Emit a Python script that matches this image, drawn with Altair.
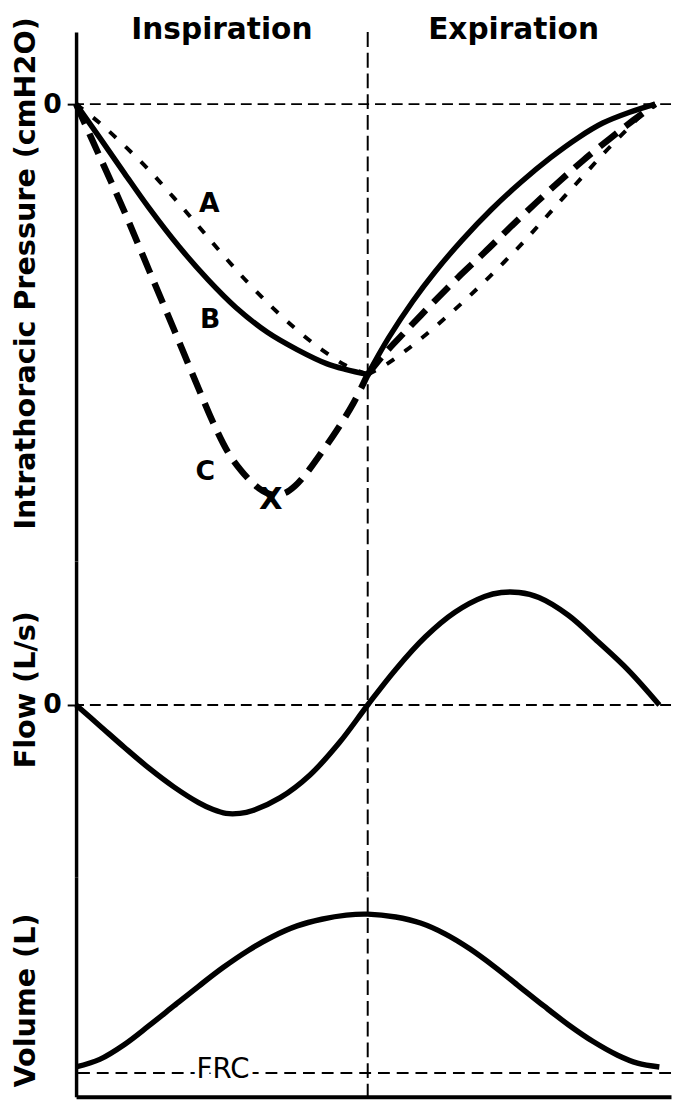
import altair as alt
import pandas as pd

# ---------------- data ----------------
DIVIDER_T = [1.0]                       # end of inspiration
PHASE_LABELS = ["Inspiration", "Expiration"]
PHASE_CENTERS = [0.5, 1.5]

# Intrathoracic pressure (cmH2O, estimated)
A_INSP_T = [0, 0.081, 0.166, 0.250, 0.335, 0.420, 0.504, 0.589, 0.673, 0.758, 0.842, 0.927, 1.0]
A_INSP_P = [0, -0.35, -0.77, -1.22, -1.73, -2.26, -2.79, -3.30, -3.76, -4.18, -4.54, -4.84, -5.0]
A_EXP_T = [1.0, 1.062, 1.130, 1.198, 1.265, 1.333, 1.401, 1.468, 1.536, 1.603, 1.671, 1.739, 1.806, 1.874, 1.932, 1.986]
A_EXP_P = [-5.0, -4.82, -4.56, -4.27, -3.96, -3.63, -3.28, -2.92, -2.54, -2.14, -1.73, -1.33, -0.93, -0.55, -0.24, 0]

B_INSP_T = [0, 0.081, 0.166, 0.250, 0.352, 0.453, 0.548, 0.656, 0.758, 0.859, 0.927, 1.0]
B_INSP_P = [0, -0.62, -1.28, -1.92, -2.63, -3.25, -3.76, -4.22, -4.54, -4.80, -4.91, -5.0]
B_EXP_T = [1.0, 1.072, 1.154, 1.231, 1.323, 1.424, 1.526, 1.627, 1.722, 1.806, 1.898, 1.986]
B_EXP_P = [-5.0, -4.32, -3.65, -3.10, -2.52, -1.95, -1.44, -0.99, -0.62, -0.35, -0.15, 0]

C_INSP_T = [0, 0.081, 0.166, 0.250, 0.335, 0.420, 0.470, 0.521, 0.565, 0.606, 0.639, 0.680,
            0.717, 0.751, 0.785, 0.825, 0.893, 0.951, 1.0]
C_INSP_P = [0, -0.97, -1.99, -3.07, -4.16, -5.26, -5.89, -6.44, -6.77, -7.01, -7.15, -7.23,
            -7.19, -7.06, -6.86, -6.57, -6.04, -5.53, -5.0]
C_EXP_T = [1.0, 1.052, 1.130, 1.221, 1.309, 1.401, 1.492, 1.580, 1.661, 1.739, 1.830, 1.908, 1.986]
C_EXP_P = [-5.0, -4.65, -4.20, -3.69, -3.21, -2.74, -2.26, -1.81, -1.41, -1.04, -0.64, -0.31, 0]

CURVE_LABELS = ["A", "B", "C"]
CURVE_LABEL_T = [0.457, 0.460, 0.443]
CURVE_LABEL_P = [-1.81, -3.96, -6.77]
X_MARK_T = [0.668]
X_MARK_P = [-7.28]

# Flow (L/s, estimated)
FLOW_T = [0, 0.081, 0.166, 0.250, 0.335, 0.420, 0.470, 0.514, 0.562, 0.606, 0.700, 0.802, 0.903, 1.0,
          1.096, 1.198, 1.299, 1.401, 1.458, 1.519, 1.587, 1.688, 1.790, 1.894, 2.0]
FLOW_F = [0, -0.092, -0.189, -0.281, -0.364, -0.434, -0.465, -0.482, -0.482, -0.469, -0.412, -0.311, -0.167, 0,
          0.158, 0.303, 0.412, 0.482, 0.500, 0.500, 0.478, 0.399, 0.281, 0.154, 0]

# Volume (L, estimated)
VOL_T = [0, 0.081, 0.166, 0.250, 0.335, 0.420, 0.504, 0.589, 0.673, 0.758, 0.842, 0.927, 1.0,
         1.096, 1.181, 1.265, 1.350, 1.434, 1.519, 1.604, 1.688, 1.773, 1.857, 1.925, 2.0]
VOL_V = [2.519, 2.543, 2.590, 2.649, 2.711, 2.773, 2.832, 2.885, 2.929, 2.963, 2.984, 2.997, 3.0,
         2.991, 2.972, 2.938, 2.891, 2.835, 2.773, 2.711, 2.652, 2.599, 2.556, 2.531, 2.519]
FRC = [2.5]
FRC_LABEL_T = [0.504]

# ---------------- frames ----------------
def seg(t, p, curve, phase):
    return pd.DataFrame({"t": t, "p": p, "curve": curve, "seg": phase})

pressure_df = pd.concat([
    seg(A_INSP_T, A_INSP_P, "A", "insp"), seg(A_EXP_T, A_EXP_P, "A", "exp"),
    seg(B_INSP_T, B_INSP_P, "B", "insp"), seg(B_EXP_T, B_EXP_P, "B", "exp"),
    seg(C_INSP_T, C_INSP_P, "C", "insp"), seg(C_EXP_T, C_EXP_P, "C", "exp"),
], ignore_index=True)
labels_df = pd.DataFrame({"t": CURVE_LABEL_T, "p": CURVE_LABEL_P, "label": CURVE_LABELS})
xmark_df = pd.DataFrame({"t": X_MARK_T, "p": X_MARK_P, "label": ["X"]})
phase_df = pd.DataFrame({"t": PHASE_CENTERS, "label": PHASE_LABELS})
divider_df = pd.DataFrame({"t": DIVIDER_T})
pzero_df = pd.DataFrame({"p": [0]})
flow_df = pd.DataFrame({"t": FLOW_T, "f": FLOW_F})
fzero_df = pd.DataFrame({"f": [0]})
vol_df = pd.DataFrame({"t": VOL_T, "v": VOL_V})
frc_df = pd.DataFrame({"v": FRC})
frc_label_df = pd.DataFrame({"t": FRC_LABEL_T, "v": FRC, "label": ["FRC"]})

# ---------------- styling ----------------
W = 603
H_P, H_F, H_V = 536, 320, 223
FONT = "DejaVu Sans"
SMOOTH = "catmull-rom"

xscale = alt.Scale(domain=[0, 2.04], nice=False, zero=False)


def X():
    return alt.X("t:Q", scale=xscale, axis=None)


def yaxis(title, title_y, zero_label=True):
    kw = dict(
        title=title, titleX=-42, titleY=title_y, titleAngle=270,
        titleAlign="center", titleBaseline="alphabetic",
        titleFont=FONT, titleFontSize=29, titleFontWeight="bold",
        titleColor="black", titleLimit=1000,
        domainColor="black", domainWidth=3.5, grid=False,
    )
    if zero_label:
        kw.update(values=[0], format="d", tickSize=9, tickWidth=2,
                  tickColor="black", labelFont=FONT, labelFontSize=27,
                  labelFontWeight="bold", labelColor="black", labelPadding=6)
    else:
        kw.update(labels=False, ticks=False)
    return alt.Axis(**kw)


p_axis = yaxis("Intrathoracic Pressure (cmH2O)", 244)
f_axis = yaxis("Flow (L/s)", 130)
v_axis = yaxis("Volume (L)", 125, zero_label=False)

p_scale = alt.Scale(domain=[-8.449, 1.332], nice=False, zero=False)
f_scale = alt.Scale(domain=[-0.7632, 0.6404], nice=False, zero=False)
v_scale = alt.Scale(domain=[2.4255, 3.118], nice=False, zero=False)

PY = alt.Y("p:Q", scale=p_scale, axis=p_axis)
FY = alt.Y("f:Q", scale=f_scale, axis=f_axis)
VY = alt.Y("v:Q", scale=v_scale, axis=v_axis)

vrule = dict(color="black", strokeWidth=2, strokeDash=[15, 6])
hrule = dict(color="black", strokeWidth=2, strokeDash=[11, 6])

# ---------------- pressure panel ----------------
p_layers = [
    alt.Chart(divider_df).mark_rule(**vrule).encode(x=X()),
    alt.Chart(pzero_df).mark_rule(**hrule).encode(y=PY),
    alt.Chart(pressure_df[pressure_df.curve == "A"]).mark_line(
        color="black", strokeWidth=4, strokeDash=[9, 13], interpolate=SMOOTH
    ).encode(x=X(), y=PY, detail="seg:N"),
    alt.Chart(pressure_df[pressure_df.curve == "B"]).mark_line(
        color="black", strokeWidth=5.5, interpolate=SMOOTH
    ).encode(x=X(), y=PY, detail="seg:N"),
    alt.Chart(pressure_df[pressure_df.curve == "C"]).mark_line(
        color="black", strokeWidth=6.5, strokeDash=[22, 11], interpolate=SMOOTH
    ).encode(x=X(), y=PY, detail="seg:N"),
    alt.Chart(labels_df).mark_text(
        font=FONT, fontSize=27, fontWeight="bold", color="black",
        baseline="middle", align="center", dy=2
    ).encode(x=X(), y=PY, text="label:N"),
    alt.Chart(xmark_df).mark_text(
        font=FONT, fontSize=31, fontWeight="bold", color="black",
        baseline="middle", align="center", dy=2
    ).encode(x=X(), y=PY, text="label:N"),
    alt.Chart(phase_df).mark_text(
        font=FONT, fontSize=30, fontWeight="bold", color="black",
        baseline="alphabetic", align="center"
    ).encode(x=X(), y=alt.value(7), text="label:N"),
]
pressure = alt.layer(*p_layers).properties(width=W, height=H_P)

# ---------------- flow panel ----------------
flow = alt.layer(
    alt.Chart(divider_df).mark_rule(**vrule).encode(x=X()),
    alt.Chart(fzero_df).mark_rule(**hrule).encode(y=FY),
    alt.Chart(flow_df).mark_line(color="black", strokeWidth=5.5, interpolate=SMOOTH)
    .encode(x=X(), y=FY),
).properties(width=W, height=H_F)

# ---------------- volume panel ----------------
x_axis = alt.Axis(labels=False, ticks=False, title=None, grid=False,
                  domainColor="black", domainWidth=4)
VX = alt.X("t:Q", scale=xscale, axis=x_axis)

volume = alt.layer(
    alt.Chart(divider_df).mark_rule(**vrule).encode(x=VX),
    alt.Chart(frc_df).mark_rule(color="black", strokeWidth=2, strokeDash=[12, 7]).encode(y=VY),
    alt.Chart(frc_label_df).mark_text(
        font=FONT, fontSize=28, color="white", stroke="white", strokeWidth=9,
        baseline="middle", align="center", dy=-3
    ).encode(x=VX, y=VY, text="label:N"),
    alt.Chart(frc_label_df).mark_text(
        font=FONT, fontSize=28, color="black",
        baseline="middle", align="center", dy=-3
    ).encode(x=VX, y=VY, text="label:N"),
    alt.Chart(vol_df).mark_line(color="black", strokeWidth=5.5, interpolate=SMOOTH)
    .encode(x=VX, y=VY),
).properties(width=W, height=H_V)

chart = (
    alt.vconcat(pressure, flow, volume, spacing=0, bounds="flush")
    .properties(padding={"left": 3, "top": 0, "right": 0, "bottom": 0}, background="white")
    .configure_view(stroke=None)
)

chart.save("out.html", embed_options={"renderer": "svg", "actions": False})
